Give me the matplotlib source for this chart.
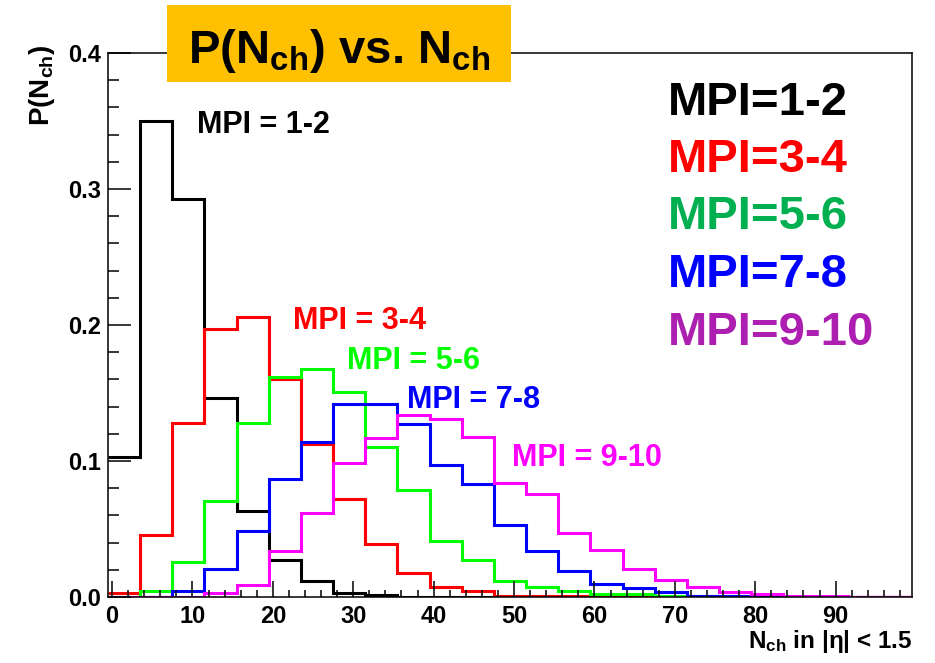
import numpy as np
import matplotlib
matplotlib.use("Agg")
import matplotlib.pyplot as plt
from matplotlib.patches import Rectangle
from matplotlib.ticker import MultipleLocator

plt.rcParams['font.family'] = ['Liberation Sans', 'DejaVu Sans']
plt.rcParams['font.weight'] = 'bold'
plt.rcParams['mathtext.fontset'] = 'custom'
plt.rcParams['mathtext.rm'] = 'Liberation Sans:bold'
plt.rcParams['mathtext.it'] = 'Liberation Sans:bold'
plt.rcParams['mathtext.bf'] = 'Liberation Sans:bold'

# Charged multiplicity bins: width 4, from -0.5 to 99.5
bin_edges = np.arange(-0.5, 100.0, 4.0)

p_mpi_1_2 = [0.103, 0.350, 0.293, 0.146, 0.063, 0.027, 0.012, 0.003, 0.0015,
             0, 0, 0, 0, 0, 0, 0, 0, 0, 0, 0, 0, 0, 0, 0, 0]
p_mpi_3_4 = [0.003, 0.0456, 0.128, 0.197, 0.206, 0.160, 0.1125, 0.072, 0.039,
             0.018, 0.0075, 0.0046, 0.001, 0.001, 0.0005, 0.0005, 0.0003,
             0, 0, 0, 0, 0, 0, 0, 0]
p_mpi_5_6 = [0, 0.0044, 0.026, 0.0705, 0.128, 0.162, 0.168, 0.151, 0.110,
             0.079, 0.041, 0.027, 0.012, 0.0074, 0.0044, 0.002, 0.002, 0.001,
             0.0005, 0.0003, 0, 0, 0, 0, 0]
p_mpi_7_8 = [0, 0, 0.0044, 0.0205, 0.0485, 0.0865, 0.114, 0.142, 0.142,
             0.127, 0.097, 0.083, 0.053, 0.034, 0.019, 0.0095, 0.0066, 0.0037,
             0.001, 0.001, 0.0005, 0.0003, 0, 0, 0]
p_mpi_9_10 = [0, 0, 0, 0.003, 0.009, 0.034, 0.062, 0.0985, 0.117, 0.134,
              0.131, 0.1175, 0.084, 0.0757, 0.047, 0.0345, 0.0206, 0.0125,
              0.0074, 0.004, 0.002, 0.001, 0.001, 0.0003, 0.0003]

series = [p_mpi_1_2, p_mpi_3_4, p_mpi_5_6, p_mpi_7_8, p_mpi_9_10]
line_colors = ['#000000', '#FF0000', '#00FF00', '#0000FF', '#FF00FF']
curve_labels = ['MPI = 1-2', 'MPI = 3-4', 'MPI = 5-6', 'MPI = 7-8', 'MPI = 9-10']
# label anchor (x, y) in data units
curve_label_pos = [(10.6, 0.341), (22.5, 0.197), (29.2, 0.168), (36.7, 0.139), (49.75, 0.0963)]

key_labels = ['MPI=1-2', 'MPI=3-4', 'MPI=5-6', 'MPI=7-8', 'MPI=9-10']
key_colors = ['#000000', '#FF0000', '#00B050', '#0000FF', '#AD1FB1']

x_tick_values = list(range(0, 91, 10))
x_tick_labels = [str(v) for v in x_tick_values]
y_tick_values = [0, 0.1, 0.2, 0.3, 0.4]
y_tick_labels = ['0.0', '0.1', '0.2', '0.3', '0.4']

W, H = 935, 663
fig = plt.figure(figsize=(W / 100, H / 100), dpi=100)
fig.patch.set_facecolor('white')

ax_l, ax_r, ax_t, ax_b = 108, 912, 53, 597
ax = fig.add_axes([ax_l / W, 1 - ax_b / H, (ax_r - ax_l) / W, (ax_b - ax_t) / H])

for vals, col in zip(series, line_colors):
    ax.stairs(vals, bin_edges, baseline=None, color=col, lw=2.2)

ax.set_xlim(-0.5, 99.5)
ax.set_ylim(0, 0.4)

ax.xaxis.set_minor_locator(MultipleLocator(2))
ax.yaxis.set_minor_locator(MultipleLocator(0.02))
ax.set_xticks(x_tick_values)
ax.set_xticklabels(x_tick_labels)
ax.set_yticks(y_tick_values)
ax.set_yticklabels(y_tick_labels)

ax.tick_params(axis='both', which='both', direction='in', top=False, right=False,
               width=1.1, labelsize=17, colors='black')
ax.tick_params(axis='y', which='major', length=16.5, pad=5)
ax.tick_params(axis='y', which='minor', length=8)
ax.tick_params(axis='x', which='major', length=11.5, pad=6)
ax.tick_params(axis='x', which='minor', length=5)
for lab in ax.get_xticklabels() + ax.get_yticklabels():
    lab.set_fontweight('bold')
for sp in ax.spines.values():
    sp.set_linewidth(1.1)
    sp.set_color('black')

for text, col, (x, y) in zip(curve_labels, line_colors, curve_label_pos):
    ax.text(x, y, text, color=col, fontsize=22, fontweight='bold',
            ha='left', va='baseline')

# axis titles
fig.text(27 / W, 1 - 45 / H, r'P(N$_{ch}$)', rotation=90, fontsize=20,
         fontweight='bold', ha='left', va='top')
fig.text(912 / W, 1 - 648 / H, r'N$_{ch}$ in |η| < 1.5', fontsize=17.5,
         fontweight='bold', ha='right', va='baseline')

# highlighted title box
fig.patches.append(Rectangle((167 / W, 1 - 82 / H), (511 - 167) / W, (82 - 5) / H,
                             transform=fig.transFigure, facecolor='#FFC000',
                             edgecolor='none', zorder=5))
fig.text(339 / W, 1 - 63 / H, r'P(N$_{ch}$) vs. N$_{ch}$', fontsize=34,
         fontweight='bold', ha='center', va='baseline', zorder=6)

# colour key on the right
key_baselines = [115, 172, 229, 287, 345]
for text, col, yb in zip(key_labels, key_colors, key_baselines):
    fig.text(668 / W, 1 - yb / H, text, color=col, fontsize=34,
             fontweight='bold', ha='left', va='baseline')

fig.savefig('out.png', dpi=100)
